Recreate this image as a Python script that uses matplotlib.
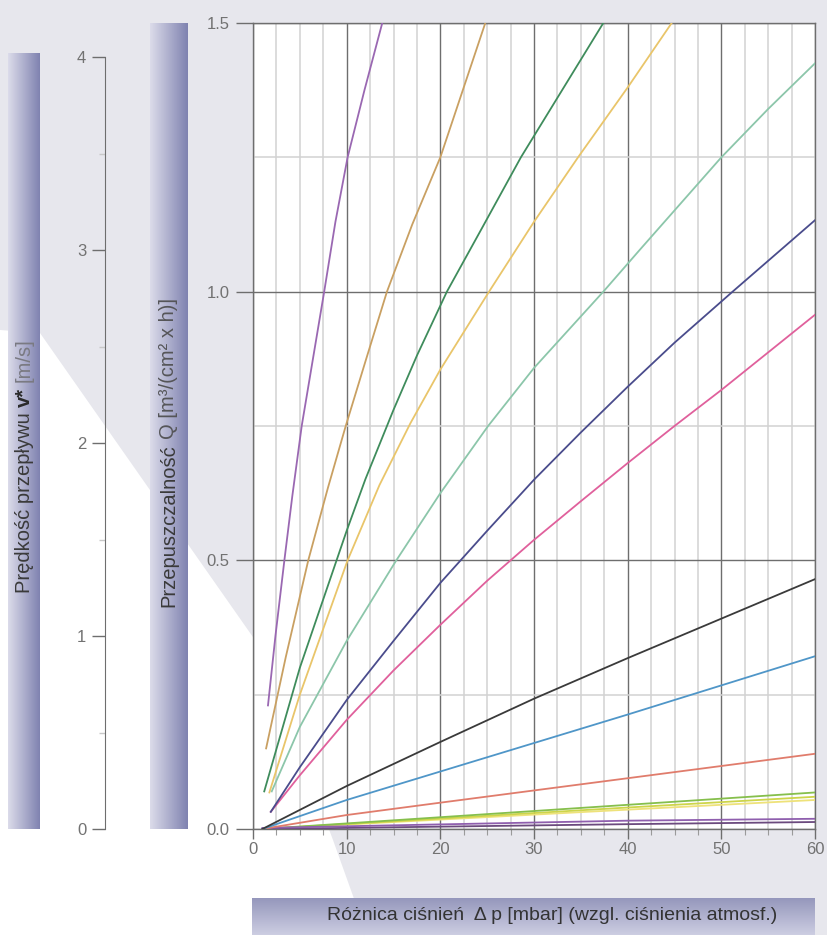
import matplotlib
matplotlib.use("Agg")
import matplotlib.pyplot as plt
import numpy as np
from matplotlib.patches import Polygon
from matplotlib.transforms import IdentityTransform

# ---------------- data ----------------
dp_ticks = [0, 10, 20, 30, 40, 50, 60]
q_ticks = [0.0, 0.5, 1.0, 1.5]
q_tick_labels = ["0.0", "0.5", "1.0", "1.5"]
v_ticks = [0, 1, 2, 3, 4]

# steep curves (Δp [mbar], Q [m³/(cm² x h)])
dp_purple = [1.6, 2.4, 3.35, 4.2, 5.2, 6.4, 7.6, 8.8, 10.1, 11.9, 13.8]
q_purple = [0.23, 0.36, 0.50, 0.62, 0.75, 0.875, 1.00, 1.13, 1.25, 1.375, 1.50]

dp_tan = [1.4, 3.5, 5.9, 8.0, 9.9, 12.0, 14.3, 17.0, 20.0, 22.4, 24.8]
q_tan = [0.15, 0.32, 0.50, 0.635, 0.75, 0.87, 1.00, 1.125, 1.25, 1.375, 1.50]

dp_dkgreen = [1.2, 5.0, 10.0, 12.0, 15.0, 17.5, 20.7, 24.5, 28.6, 33.0, 37.4]
q_dkgreen = [0.07, 0.30, 0.555, 0.651, 0.78, 0.881, 1.00, 1.12, 1.25, 1.375, 1.50]

dp_yellow = [1.75, 5.0, 10.1, 13.5, 16.8, 20.0, 25.2, 30.0, 34.7, 40.0, 44.7]
q_yellow = [0.068, 0.25, 0.50, 0.64, 0.755, 0.855, 1.00, 1.13, 1.25, 1.38, 1.50]

dp_teal = [2.0, 5.0, 10.0, 15.3, 20.0, 25.1, 30.0, 37.4, 41.3, 50.0, 55.0, 60.0]
q_teal = [0.07, 0.19, 0.35, 0.50, 0.625, 0.75, 0.858, 1.00, 1.078, 1.25, 1.34, 1.425]

dp_navy = [1.9, 5.0, 10.0, 15.0, 20.0, 25.0, 30.0, 35.0, 40.0, 45.0, 51.2, 60.0]
q_navy = [0.032, 0.115, 0.24, 0.35, 0.458, 0.555, 0.65, 0.738, 0.823, 0.905, 1.00, 1.133]

dp_pink = [1.9, 5.0, 10.0, 15.0, 20.0, 25.0, 30.0, 35.0, 40.0, 45.0, 50.0, 55.0, 60.0]
q_pink = [0.032, 0.10, 0.203, 0.295, 0.38, 0.462, 0.538, 0.61, 0.681, 0.75, 0.817, 0.887, 0.957]

# nearly straight lines
dp_gray = [1.0, 10.0, 20.0, 30.0, 40.0, 60.0]
q_gray = [0.0, 0.080, 0.162, 0.2425, 0.318, 0.465]

dp_ltblue = [1.0, 10.0, 20.0, 30.0, 40.0, 60.0]
q_ltblue = [0.0, 0.054, 0.107, 0.160, 0.213, 0.3215]

dp_salmon = [1.0, 10.0, 20.0, 40.0, 60.0]
q_salmon = [0.0, 0.026, 0.049, 0.0945, 0.14]

dp_green = [1.0, 40.0, 60.0]
q_green = [0.0, 0.045, 0.068]

dp_ygreen = [1.0, 40.0, 60.0]
q_ygreen = [0.0, 0.040, 0.060]

dp_lyellow = [1.0, 40.0, 60.0]
q_lyellow = [0.0, 0.036, 0.054]

dp_lpurple = [1.0, 40.0, 60.0]
q_lpurple = [0.002, 0.0155, 0.019]

dp_dpurple = [1.0, 40.0, 60.0]
q_dpurple = [0.0, 0.009, 0.013]

curves = [
    (dp_lyellow, q_lyellow, "#eee27a"),
    (dp_ygreen, q_ygreen, "#cdd54a"),
    (dp_green, q_green, "#86bf4c"),
    (dp_dpurple, q_dpurple, "#6b4a7e"),
    (dp_lpurple, q_lpurple, "#8f5fae"),
    (dp_salmon, q_salmon, "#e07c6c"),
    (dp_ltblue, q_ltblue, "#4f96c8"),
    (dp_gray, q_gray, "#3a3a3a"),
    (dp_pink, q_pink, "#e0609c"),
    (dp_navy, q_navy, "#4a4c8c"),
    (dp_teal, q_teal, "#8cc6aa"),
    (dp_yellow, q_yellow, "#e9c56a"),
    (dp_dkgreen, q_dkgreen, "#3f8c5c"),
    (dp_tan, q_tan, "#c9a062"),
    (dp_purple, q_purple, "#9a68b2"),
]

# ---------------- fonts ----------------
plt.rcParams["font.family"] = ["Liberation Sans", "DejaVu Sans"]
TICK_C = "#727272"

W, H = 827, 935
fig = plt.figure(figsize=(W / 100, H / 100), dpi=100)
fig.patch.set_facecolor("#e7e7ed")


def fx(px):
    return px / W


def fy(py):
    return 1 - py / H


# white diagonal background region
poly = Polygon([(fx(0), fy(330)), (fx(40), fy(333)), (fx(262), fy(650)),
                (fx(333), fy(840)), (fx(367), fy(935)), (fx(0), fy(935))],
               closed=True, transform=fig.transFigure, facecolor="white",
               edgecolor="none", zorder=0)
fig.add_artist(poly)


def band(x0, y0, x1, y1, horizontal=True, c_light="#dcdcea", c_dark="#7f82b0"):
    bax = fig.add_axes([fx(x0), fy(y1), fx(x1) - fx(x0), fy(y0) - fy(y1)])
    bax.set_axis_off()
    cl = np.array(matplotlib.colors.to_rgb(c_light))
    cd = np.array(matplotlib.colors.to_rgb(c_dark))
    t = np.linspace(0, 1, 256)
    if horizontal:
        img = (cl[None, :] * (1 - t[:, None]) + cd[None, :] * t[:, None])[None, :, :]
    else:
        img = (cd[None, :] * (1 - t[:, None]) + cl[None, :] * t[:, None])[:, None, :]
    bax.imshow(img, aspect="auto", interpolation="bilinear")
    return bax


band(8, 53, 40, 829)
band(150, 23, 188, 829)
band(252, 898, 815, 935, horizontal=False, c_light="#cdcee2", c_dark="#9597bc")

# ---------------- main axes ----------------
x0, x1, y_top, y_bot = 253, 815, 23, 829
ax = fig.add_axes([fx(x0), fy(y_bot), fx(x1) - fx(x0), fy(y_top) - fy(y_bot)])
ax.set_facecolor("white")
ax.set_xlim(0, 60)
ax.set_ylim(0, 1.5)
ax.set_xticks(dp_ticks)
ax.set_xticks(np.arange(0, 60.1, 2.5), minor=True)
ax.set_yticks(q_ticks)
ax.set_yticklabels(q_tick_labels)
ax.set_yticks(np.arange(0, 1.51, 0.25), minor=True)
ax.grid(which="minor", color="#d2d2d2", lw=1.1, zorder=0)
ax.grid(which="major", color="#6e6e6e", lw=1.0, zorder=1)
ax.set_axisbelow(True)
for s in ax.spines.values():
    s.set_color("#6e6e6e")
    s.set_linewidth(1.0)
ax.tick_params(axis="x", which="major", length=7, width=1.0, color="#6e6e6e",
               labelcolor=TICK_C, labelsize=12, pad=2)
ax.tick_params(axis="x", which="minor", length=4, width=0.8, color="#9a9a9a")
ax.tick_params(axis="y", which="major", length=12, width=1.0, color="#6e6e6e",
               labelcolor=TICK_C, labelsize=12, pad=5)
ax.tick_params(axis="y", which="minor", length=0)

for dp, q, c in curves:
    ax.plot(dp, q, color=c, lw=1.3, solid_joinstyle="round", zorder=3)

# ---------------- velocity axis ----------------
vtop = 4 * (y_bot - y_top) / (829 - 57)
vax = fig.add_axes([fx(105), fy(y_bot), 0.0005, fy(y_top) - fy(y_bot)])
vax.patch.set_alpha(0)
vax.set_ylim(0, vtop)
vax.set_xticks([])
for k in ("top", "right", "bottom"):
    vax.spines[k].set_visible(False)
vax.spines["left"].set_bounds(0, 4)
vax.spines["left"].set_color("#6e6e6e")
vax.set_yticks(v_ticks)
vax.set_yticks([0.5, 1.5, 2.5, 3.5], minor=True)
vax.tick_params(axis="y", which="major", length=9.5, width=1.0, color="#6e6e6e",
                labelcolor=TICK_C, labelsize=12, pad=4)
vax.tick_params(axis="y", which="minor", length=4, width=1.0, color="#c8c8c8")

# ---------------- labels ----------------
renderer = fig.canvas.get_renderer()


def space_width(fs):
    a = fig.text(0, 0, "x x", fontsize=fs, transform=IdentityTransform())
    b = fig.text(0, 0, "xx", fontsize=fs, transform=IdentityTransform())
    w = a.get_window_extent(renderer).width - b.get_window_extent(renderer).width
    a.remove()
    b.remove()
    return w


def vertical_rich(x_base, y_bottom_px, parts, fs):
    """Rotated text made of parts with separate styles (pixel coords from top)."""
    sp = space_width(fs)
    cur = H - y_bottom_px
    for s, color, weight in parts:
        t = fig.text(x_base, cur, s, rotation=90, rotation_mode="anchor",
                     ha="left", va="baseline", fontsize=fs, color=color,
                     fontweight=weight, transform=IdentityTransform())
        ext = t.get_window_extent(renderer)
        cur = ext.y1 + sp


FS = 14.5
vertical_rich(30, 593, [("Prędkość przepływu", "#3a3a3a", "normal"),
                        ("v*", "#2a2a2a", "bold"),
                        ("[m/s]", "#7a7a82", "normal")], FS)
vertical_rich(174, 607, [("Przepuszczalność", "#3a3a3a", "normal"),
                         ("Q [m³/(cm² x h)]", "#555558", "normal")], FS)

fig.text(fx(552), fy(915), "Różnica ciśnień  Δ p [mbar] (wzgl. ciśnienia atmosf.)",
         ha="center", va="center", fontsize=14, color="#333333")

fig.savefig("out.png", dpi=100, facecolor=fig.get_facecolor())
